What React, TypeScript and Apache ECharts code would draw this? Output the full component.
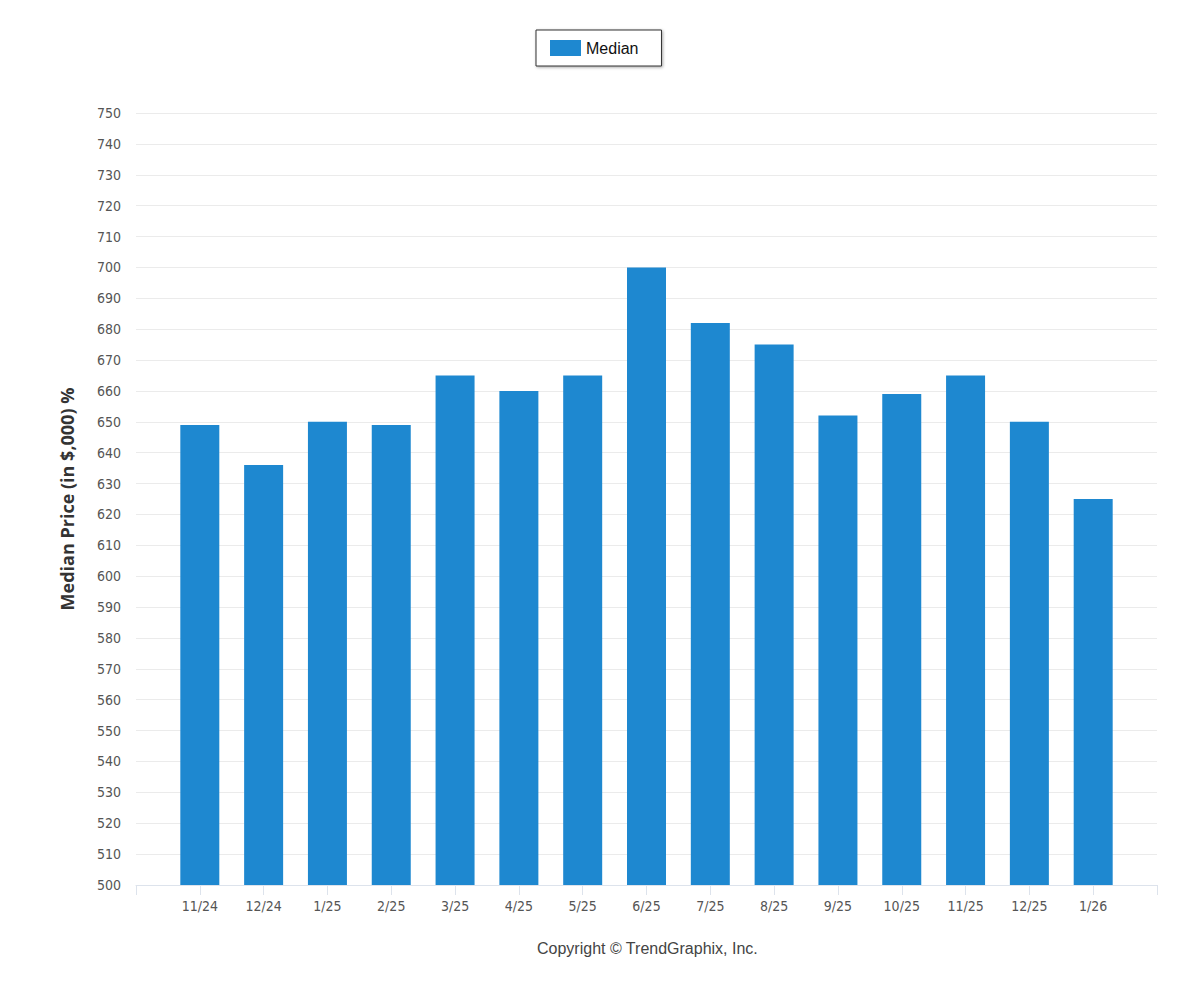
import React, { useEffect, useRef } from "react";
import * as echarts from "echarts";

const categories = ["11/24", "12/24", "1/25", "2/25", "3/25", "4/25", "5/25", "6/25", "7/25", "8/25", "9/25", "10/25", "11/25", "12/25", "1/26"];
const medianValues = [649, 636, 650, 649, 665, 660, 665, 700, 682, 675, 652, 659, 665, 650, 625];
const seriesName = "Median";
const yAxisTitle = "Median Price (in $,000) %";
const footerText = "Copyright © TrendGraphix, Inc.";

export default function App() {
  const ref = useRef<HTMLDivElement>(null);
  useEffect(() => {
    document.body.style.margin = "0";
    const chart = echarts.init(ref.current!, null, { renderer: "svg" });
    const narrow = "'Liberation Sans Narrow', 'DejaVu Sans Condensed', 'Open Sans', sans-serif";
    chart.setOption({
      animation: false,
      backgroundColor: "#ffffff",
      legend: {
        data: [seriesName],
        top: 30,
        left: 536,
        itemWidth: 31,
        itemHeight: 16,
        itemGap: 8,
        padding: [10, 23, 10, 14],
        borderColor: "#333",
        borderWidth: 1,
        shadowColor: "rgba(0,0,0,0.35)",
        shadowBlur: 3,
        shadowOffsetX: 1,
        shadowOffsetY: 1,
        backgroundColor: "#fff",
        textStyle: { fontFamily: "'Liberation Sans', Arial, sans-serif", fontSize: 16, color: "#111" },
        icon: "rect",
      },
      grid: { left: 136, right: 43, top: 113, bottom: 115, containLabel: false },
      xAxis: {
        type: "value",
        min: -1,
        max: categories.length,
        interval: 1,
        splitLine: { show: false },
        axisLine: { show: true, lineStyle: { color: "#dde3ec", width: 1 } },
        axisTick: { show: true, length: 10, lineStyle: { color: "#dde3ec" } },
        axisLabel: {
          margin: 14,
          fontFamily: narrow,
          fontSize: 14,
          color: "#555",
          showMinLabel: true,
          showMaxLabel: true,
          formatter: (v: number) => (v >= 0 && v < categories.length ? categories[v] : ""),
        },
      },
      yAxis: {
        type: "value",
        min: 500,
        max: 750,
        interval: 10,
        name: yAxisTitle,
        nameLocation: "middle",
        nameGap: 60,
        nameTextStyle: { fontFamily: "'Open Sans', 'DejaVu Sans', sans-serif", fontSize: 18, fontWeight: "bold", color: "#333" },
        axisLine: { show: false },
        axisTick: { show: false },
        splitLine: { lineStyle: { color: "#ebebeb", width: 1 } },
        axisLabel: { margin: 15, fontFamily: narrow, fontSize: 14, color: "#555" },
      },
      series: [
        {
          name: seriesName,
          type: "bar",
          barWidth: 39,
          itemStyle: { color: "#1e88d0" },
          data: medianValues.map((v, i) => [i, v]),
        },
      ],
      graphic: [
        {
          type: "text",
          left: 537,
          top: 940,
          style: { text: footerText, fontFamily: "'Liberation Sans', Arial, sans-serif", fontSize: 16, fill: "#444" },
        },
      ],
    });
    return () => chart.dispose();
  }, []);
  return <div ref={ref} style={{ width: 1200, height: 1000 }} />;
}
